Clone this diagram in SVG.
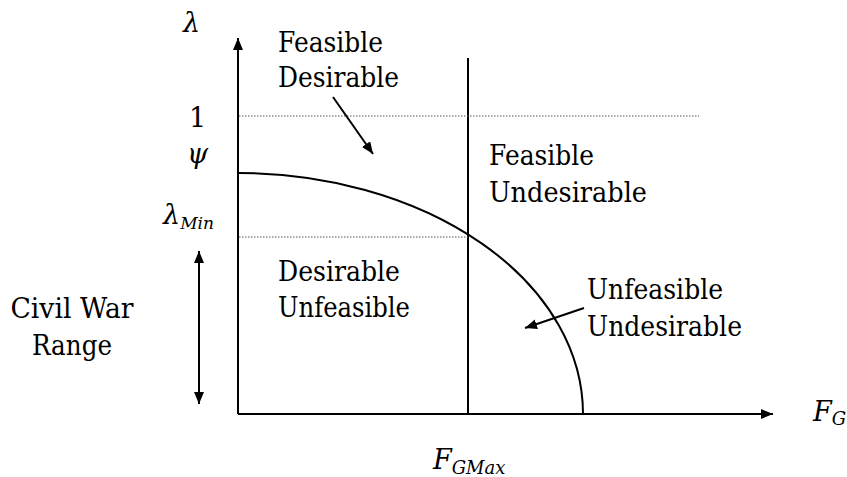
<svg xmlns="http://www.w3.org/2000/svg" width="847" height="477" viewBox="0 0 847 477">
<defs>
<marker id="ah" viewBox="0 0 12 10" refX="12" refY="5" markerWidth="12" markerHeight="10" markerUnits="userSpaceOnUse" orient="auto-start-reverse">
<path d="M0,0 L12,5 L0,10 Z" fill="#000"/>
</marker>
<style>
.t{font-size:27px;fill:#000}
.i{font-style:italic;fill:#000}
.ln{stroke:#000;stroke-width:2;fill:none}
.dot{stroke:#555;stroke-width:1.2;stroke-dasharray:1.5 1.5;fill:none}
</style>
</defs>
<rect width="847" height="477" fill="#fff"/>
<g id="connectors">
<line class="ln" x1="238" y1="414" x2="238" y2="38" marker-end="url(#ah)"/>
<line class="ln" x1="238" y1="414" x2="773" y2="414" marker-end="url(#ah)"/>
<line class="ln" x1="468" y1="58" x2="468" y2="414"/>
<line class="dot" x1="239" y1="116" x2="699" y2="116"/>
<line class="dot" x1="239" y1="237" x2="468" y2="237"/>
<path class="ln" d="M238,173 A345,241 0 0 1 583,414" stroke-width="2.6"/>
<line class="ln" x1="199" y1="251" x2="199" y2="404" marker-start="url(#ah)" marker-end="url(#ah)"/>
<line class="ln" x1="333" y1="97" x2="373" y2="154" marker-end="url(#ah)"/>
<line class="ln" x1="584" y1="308" x2="525" y2="328" marker-end="url(#ah)"/>
</g>
<g font-family="'DejaVu Serif', 'Liberation Serif', serif">
<g id="axis-labels">
<text class="i" x="183" y="32" font-size="27">λ</text>
<text class="t" x="189" y="127">1</text>
<text class="i" x="187" y="163" font-size="27">ψ</text>
<text class="i" x="163" y="224" font-size="27">λ<tspan font-size="17" dy="5">Min</tspan></text>
<text class="i" x="813" y="421" font-size="27">F<tspan font-size="18" dy="4">G</tspan></text>
<text class="i" x="433" y="469" font-size="27">F<tspan font-size="18" dy="5">GMax</tspan></text>
</g>
<g id="feasible-desirable">
<text class="t" x="278" y="52" textLength="105" lengthAdjust="spacingAndGlyphs">Feasible</text>
<text class="t" x="278" y="87" textLength="121" lengthAdjust="spacingAndGlyphs">Desirable</text>
</g>
<g id="feasible-undesirable">
<text class="t" x="489" y="165" textLength="105" lengthAdjust="spacingAndGlyphs">Feasible</text>
<text class="t" x="489" y="202" textLength="158" lengthAdjust="spacingAndGlyphs">Undesirable</text>
</g>
<g id="desirable-unfeasible">
<text class="t" x="278" y="281" textLength="122" lengthAdjust="spacingAndGlyphs">Desirable</text>
<text class="t" x="278" y="317" textLength="132" lengthAdjust="spacingAndGlyphs">Unfeasible</text>
</g>
<g id="unfeasible-undesirable">
<text class="t" x="587" y="299" textLength="136" lengthAdjust="spacingAndGlyphs">Unfeasible</text>
<text class="t" x="587" y="336" textLength="155" lengthAdjust="spacingAndGlyphs">Undesirable</text>
</g>
<g id="civil-war-range">
<text class="t" x="72" y="318" text-anchor="middle" textLength="123" lengthAdjust="spacingAndGlyphs">Civil War</text>
<text class="t" x="72" y="355" text-anchor="middle" textLength="80" lengthAdjust="spacingAndGlyphs">Range</text>
</g>
</g>
</svg>
